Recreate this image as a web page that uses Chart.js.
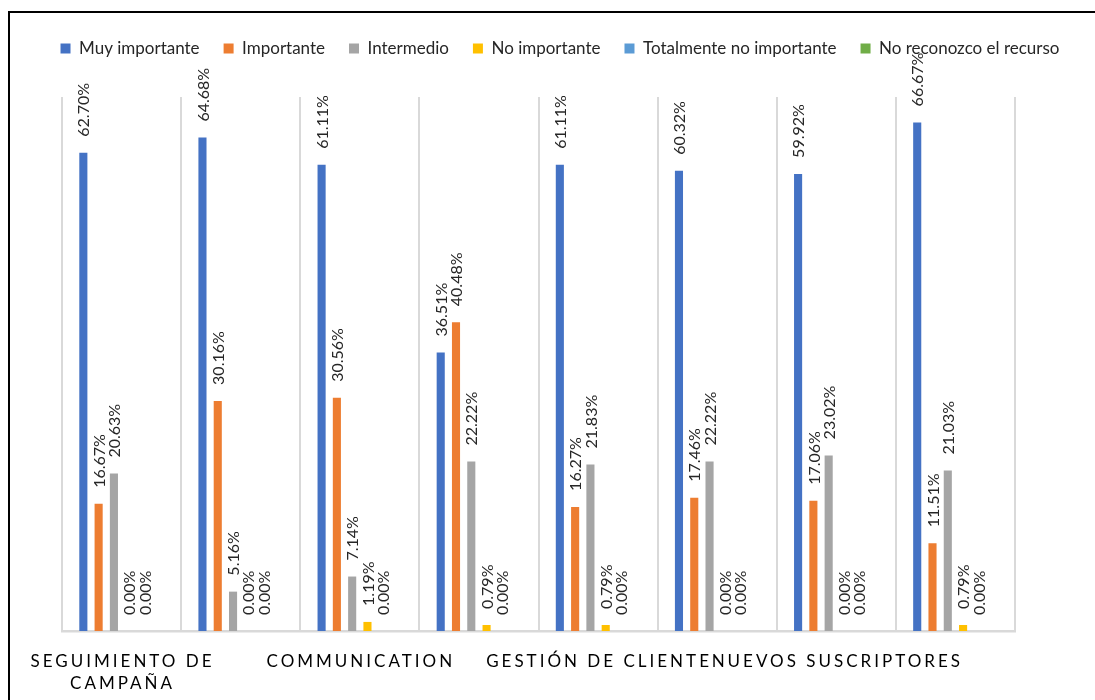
<!DOCTYPE html>
<html>
<head>
<meta charset="utf-8">
<script src="https://cdn.jsdelivr.net/npm/chart.js@4/dist/chart.umd.min.js"></script>
<style>
  body { margin: 0; background: #fff; }
  #wrap { position: relative; width: 1095px; height: 700px; overflow: hidden; }
  #frame { position: absolute; left: 8px; top: 11px; width: 1200px; height: 800px;
           border-left: 2px solid #000; border-top: 2px solid #000; }
  canvas { position: absolute; left: 0; top: 0; }
</style>
</head>
<body>
<div id="wrap">
  <div id="frame"></div>
  <canvas id="chart" width="1095" height="700"></canvas>
</div>
<script>
// hidden categories have no readable label in the source
const categories = [
  ["SEGUIMIENTO DE", "CAMPAÑA"], "", "COMMUNICATION", "",
  "GESTIÓN DE CLIENTE", "", "NUEVOS SUSCRIPTORES", ""
];
const muyImportante = [62.70, 64.68, 61.11, 36.51, 61.11, 60.32, 59.92, 66.67];
const importante = [16.67, 30.16, 30.56, 40.48, 16.27, 17.46, 17.06, 11.51];
const intermedio = [20.63, 5.16, 7.14, 22.22, 21.83, 22.22, 23.02, 21.03];
const noImportante = [0.00, 0.00, 1.19, 0.79, 0.79, 0.00, 0.00, 0.79];
const totalmenteNo = [0.00, 0.00, 0.00, 0.00, 0.00, 0.00, 0.00, 0.00];
const noReconozco = [null, null, null, null, null, null, null, null];

const FONT = "Lato";
const TEXT = "#262626";

const barLabels = {
  id: "barLabels",
  afterDatasetsDraw(chart) {
    const ctx = chart.ctx;
    ctx.save();
    ctx.font = "16px " + FONT;
    ctx.fillStyle = TEXT;
    ctx.textAlign = "left";
    ctx.textBaseline = "middle";
    chart.data.datasets.forEach((ds, i) => {
      chart.getDatasetMeta(i).data.forEach((bar, j) => {
        const v = ds.data[j];
        if (v === null) return;
        ctx.save();
        ctx.translate(bar.x + 1, bar.y - 16);
        ctx.rotate(-Math.PI / 2);
        ctx.fillText(v.toFixed(2) + "%", 0, 0);
        ctx.restore();
      });
    });
    ctx.restore();
  }
};

const catLabels = {
  id: "catLabels",
  afterDraw(chart) {
    const ctx = chart.ctx;
    const x = chart.scales.x;
    ctx.save();
    ctx.font = "17px " + FONT;
    ctx.fillStyle = "#000";
    ctx.letterSpacing = "3px";
    ctx.textAlign = "center";
    ctx.textBaseline = "alphabetic";
    categories.forEach((lab, i) => {
      const lines = Array.isArray(lab) ? lab : [lab];
      const px = x.getPixelForValue(i) + 1;
      lines.forEach((l, k) => ctx.fillText(l, px, 667 + k * 22));
    });
    ctx.restore();
  }
};

const hidden = {
  display: true,
  grid: { display: false },
  ticks: { display: false },
  border: { display: false }
};

new Chart(document.getElementById("chart"), {
  type: "bar",
  data: {
    labels: categories,
    datasets: [
      { label: "Muy importante", data: muyImportante, backgroundColor: "#4472C4" },
      { label: "Importante", data: importante, backgroundColor: "#ED7D31" },
      { label: "Intermedio", data: intermedio, backgroundColor: "#A5A5A5" },
      { label: "No importante", data: noImportante, backgroundColor: "#FFC000" },
      { label: "Totalmente no importante", data: totalmenteNo, backgroundColor: "#5B9BD5" },
      { label: "No reconozco el recurso", data: noReconozco, backgroundColor: "#70AD47" }
    ]
  },
  options: {
    responsive: false,
    animation: false,
    datasets: { bar: { categoryPercentage: 0.77, barPercentage: 0.53 } },
    layout: { padding: { left: 25, right: 0, top: 16, bottom: 0 } },
    scales: {
      x: {
        grid: { color: "#d9d9d9", lineWidth: 2, drawTicks: false },
        border: { color: "#d9d9d9", width: 2.5 },
        ticks: { display: false },
        afterFit(s) { s.height = 69; }
      },
      xTop: Object.assign({}, hidden, {
        type: "linear", position: "top",
        afterFit(s) { s.height = Math.max(0, 97 - 16 - s.chart.legend.height); }
      }),
      y: Object.assign({}, hidden, {
        min: 0, max: 70,
        afterFit(s) { s.width = 37; }
      }),
      y2: Object.assign({}, hidden, {
        type: "linear", position: "right",
        afterFit(s) { s.width = 80; }
      })
    },
    plugins: {
      legend: {
        position: "top",
        labels: {
          boxWidth: 10,
          boxHeight: 10,
          padding: 24,
          color: TEXT,
          font: { family: FONT, size: 17 }
        }
      },
      tooltip: { enabled: false }
    }
  },
  plugins: [barLabels, catLabels]
});
</script>
</body>
</html>
